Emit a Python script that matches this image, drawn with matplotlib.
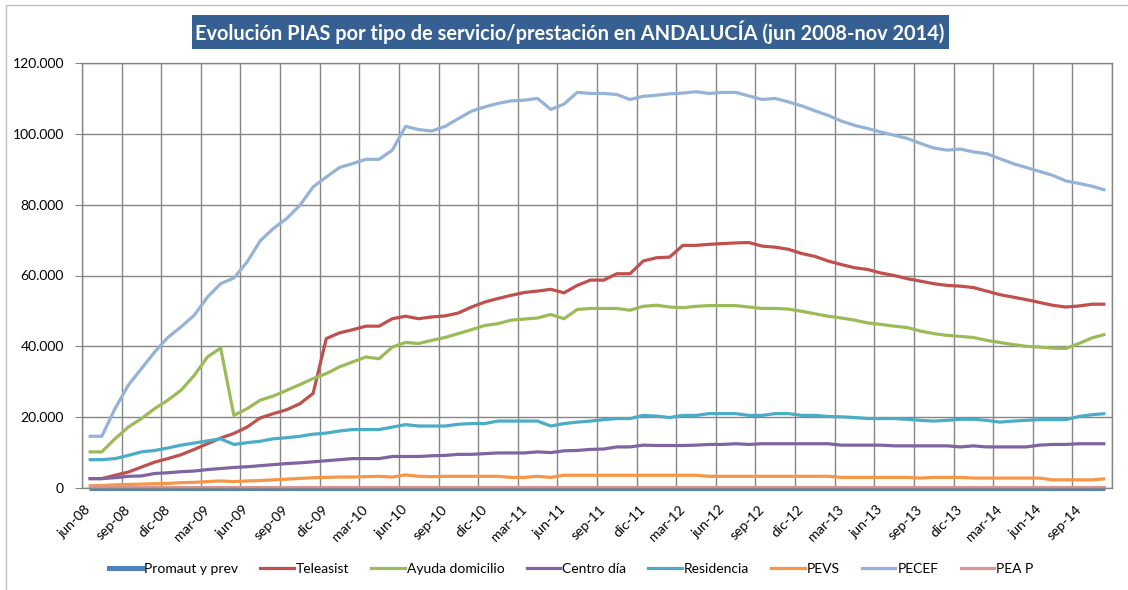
import matplotlib
matplotlib.use("Agg")
import matplotlib.pyplot as plt
from matplotlib.lines import Line2D
from matplotlib.patches import Rectangle
from matplotlib.transforms import ScaledTranslation
import numpy as np

plt.rcParams['font.family'] = ['Lato', 'DejaVu Sans']

# eje x: etiquetas cada 3 meses (jun-08 .. sep-14), 78 meses hasta nov-14
n_meses = 78
etiquetas = ["jun-08", "sep-08", "dic-08", "mar-09", "jun-09", "sep-09", "dic-09",
             "mar-10", "jun-10", "sep-10", "dic-10", "mar-11", "jun-11", "sep-11",
             "dic-11", "mar-12", "jun-12", "sep-12", "dic-12", "mar-13", "jun-13",
             "sep-13", "dic-13", "mar-14", "jun-14", "sep-14"]

promaut = [0, 0, 0, 0, 0, 0, 0, 0, 0, 0, 0, 0,
           0, 0, 0, 0, 0, 0, 0, 0, 0, 0, 0, 0,
           0, 0, 0, 0, 0, 0, 0, 0, 0, 0, 0, 0,
           0, 0, 0, 0, 0, 0, 0, 0, 0, 0, 0, 0,
           0, 0, 0, 0, 0, 0, 0, 0, 0, 0, 0, 0,
           0, 0, 0, 0, 0, 0, 0, 0, 0, 0, 0, 0,
           0, 0, 0, 0, 0, 0]

teleasist = [2650, 2650, 3600, 4500, 5900, 7300, 8300, 9400, 10900, 12500, 14100, 15400,
             17200, 19800, 21000, 22100, 23800, 26700, 42200, 43800, 44700, 45700, 45700, 47800,
             48500, 47800, 48300, 48600, 49400, 51100, 52500, 53500, 54400, 55200, 55600, 56100,
             55100, 57200, 58700, 58700, 60500, 60500, 64100, 65000, 65200, 68500, 68500, 68800,
             69000, 69200, 69300, 68300, 68000, 67400, 66200, 65400, 64100, 63100, 62200, 61700,
             60700, 60000, 59100, 58400, 57700, 57200, 57000, 56600, 55600, 54600, 53900, 53200,
             52400, 51600, 51100, 51400, 51900, 51900]

ayuda = [10200, 10200, 13900, 17200, 19600, 22400, 24800, 27600, 31800, 37000, 39500, 20500,
         22400, 24800, 26000, 27600, 29200, 30900, 32300, 34200, 35600, 37000, 36500, 39800,
         41100, 40800, 41700, 42500, 43600, 44700, 45900, 46400, 47400, 47700, 48000, 49000,
         47800, 50400, 50700, 50700, 50700, 50200, 51300, 51600, 51100, 50900, 51300, 51500,
         51500, 51500, 51100, 50700, 50700, 50500, 49900, 49200, 48500, 48000, 47400, 46600,
         46200, 45700, 45300, 44300, 43600, 43100, 42800, 42500, 41700, 41100, 40500, 40000,
         39800, 39500, 39400, 40800, 42400, 43400]

centro_dia = [2650, 2650, 2900, 3300, 3400, 4100, 4300, 4600, 4800, 5200, 5500, 5800,
              6000, 6300, 6600, 6900, 7100, 7400, 7700, 8000, 8300, 8300, 8300, 8900,
              8900, 8900, 9100, 9200, 9500, 9500, 9700, 9900, 9900, 9900, 10200, 10000,
              10500, 10600, 10900, 11000, 11600, 11600, 12100, 12000, 12000, 12000, 12100, 12300,
              12300, 12500, 12300, 12500, 12500, 12500, 12500, 12500, 12500, 12100, 12100, 12100,
              12100, 11900, 11900, 11900, 11900, 11900, 11600, 11900, 11600, 11600, 11600, 11600,
              12100, 12300, 12300, 12500, 12500, 12500]

residencia = [8000, 8000, 8300, 9200, 10200, 10600, 11300, 12100, 12700, 13300, 13900, 12300,
              12800, 13200, 13900, 14200, 14600, 15200, 15500, 16100, 16500, 16500, 16500, 17200,
              17900, 17500, 17500, 17500, 18000, 18200, 18200, 18900, 18900, 18900, 18900, 17500,
              18200, 18600, 18900, 19300, 19600, 19600, 20500, 20300, 19900, 20500, 20500, 21000,
              21000, 21000, 20500, 20500, 21000, 21000, 20500, 20500, 20200, 20100, 19900, 19600,
              19600, 19600, 19400, 19100, 18900, 19100, 19400, 19400, 19100, 18600, 18900, 19100,
              19300, 19300, 19300, 20200, 20700, 21000]

pevs = [600, 700, 900, 1000, 1100, 1200, 1300, 1500, 1600, 1800, 2000, 1800,
        2000, 2100, 2300, 2500, 2700, 2900, 3000, 3100, 3100, 3200, 3300, 3100,
        3700, 3300, 3200, 3300, 3300, 3300, 3300, 3300, 3000, 3000, 3300, 3000,
        3600, 3600, 3600, 3600, 3600, 3600, 3600, 3600, 3600, 3600, 3600, 3300,
        3300, 3300, 3300, 3300, 3300, 3300, 3300, 3300, 3300, 3000, 3000, 3000,
        3000, 3000, 3000, 2800, 3000, 3000, 3000, 2800, 2800, 2800, 2800, 2800,
        2800, 2300, 2300, 2300, 2300, 2600]

pecef = [14600, 14600, 22400, 29000, 33700, 38400, 42500, 45500, 48800, 53900, 57700, 59300,
         63800, 69800, 73300, 76100, 79800, 85000, 87800, 90500, 91600, 92800, 92800, 95400,
         102100, 101200, 100800, 102100, 104300, 106400, 107600, 108600, 109300, 109500, 110000, 106900,
         108400, 111700, 111400, 111400, 111100, 109700, 110600, 110900, 111300, 111500, 111900, 111400,
         111700, 111700, 110700, 109700, 110000, 109000, 107900, 106500, 105200, 103600, 102400, 101500,
         100500, 99600, 98700, 97300, 96000, 95400, 95700, 94900, 94400, 93000, 91600, 90500,
         89400, 88300, 86700, 86000, 85200, 84100]

peap = [250, 250, 250, 250, 250, 250, 250, 250, 250, 250, 250, 250,
        250, 250, 250, 250, 250, 250, 250, 250, 250, 250, 250, 250,
        250, 250, 250, 250, 250, 250, 250, 250, 250, 250, 250, 250,
        250, 250, 250, 250, 250, 250, 250, 250, 250, 250, 250, 250,
        250, 250, 250, 250, 250, 250, 250, 250, 250, 250, 250, 250,
        250, 250, 250, 250, 250, 250, 250, 250, 250, 250, 250, 250,
        250, 250, 250, 250, 250, 250]

series = [("Promaut y prev", promaut, "#4F81BD", 3.6),
          ("Teleasist", teleasist, "#C0504D", 2.3),
          ("Ayuda domicilio", ayuda, "#9BBB59", 2.3),
          ("Centro día", centro_dia, "#8064A2", 2.3),
          ("Residencia", residencia, "#4BACC6", 2.3),
          ("PEVS", pevs, "#F79646", 2.3),
          ("PECEF", pecef, "#95B3D7", 2.3),
          ("PEA P", peap, "#D99694", 2.3)]

W, H = 1128, 590
fig = plt.figure(figsize=(W / 100, H / 100), dpi=100)

# borde exterior del gráfico
fig.patches.append(Rectangle((6 / W, -0.1), 2, 1.1 - 5 / H, transform=fig.transFigure,
                             fill=False, edgecolor="#BFBFBF", linewidth=1))

ax = fig.add_axes([82 / W, 1 - 488 / H, (1112 - 82) / W, (488 - 63) / H])
x = np.arange(n_meses)
for nombre, vals, color, lw in series:
    ax.plot(x, vals, color=color, lw=lw, label=nombre, clip_on=False,
            solid_joinstyle="round", solid_capstyle="butt")

ax.set_xlim(-0.5, n_meses - 0.5)
ax.set_ylim(0, 120000)
ax.set_xticks(np.arange(0, n_meses, 3))
ax.set_xticklabels(etiquetas, rotation=45, ha="right", va="center",
                   rotation_mode="anchor", fontsize=10)
desplaza = ScaledTranslation(3 / 100, 0, fig.dpi_scale_trans)
for lab in ax.get_xticklabels():
    lab.set_transform(lab.get_transform() + desplaza)
ax.set_xticks(np.arange(-0.5, n_meses, 3), minor=True)
ax.tick_params(axis="x", which="both", length=0, pad=14)
yt = np.arange(0, 120001, 20000)
ax.set_yticks(yt)
ax.set_yticklabels([f"{v:,.0f}".replace(",", ".") for v in yt], fontsize=10)
ax.tick_params(axis="y", length=5, color="#868686", pad=8)
ax.grid(True, which="minor", axis="x", color="#868686", lw=1)
ax.grid(True, which="major", axis="y", color="#868686", lw=1)
ax.set_axisbelow(True)
for s in ax.spines.values():
    s.set_color("#868686")
    s.set_linewidth(1)

# título en caja azul
fig.patches.append(Rectangle((192 / W, 1 - 49 / H), (949 - 192) / W, 34 / H,
                             transform=fig.transFigure, facecolor="#376092", edgecolor="none"))
fig.text(570 / W, 1 - 32 / H, "Evolución PIAS por tipo de servicio/prestación en ANDALUCÍA (jun 2008-nov 2014)",
         color="white", fontsize=14.4, fontweight="bold", ha="center", va="center")

handles = [Line2D([], [], color=c, lw=lw) for _, _, c, lw in series]
fig.legend(handles, [s[0] for s in series], loc="center", bbox_to_anchor=(571 / W, 1 - 569 / H),
           ncol=8, frameon=False, fontsize=10, handlelength=2.4, handletextpad=0.15,
           columnspacing=1.6)

fig.savefig("out.png", dpi=100)
